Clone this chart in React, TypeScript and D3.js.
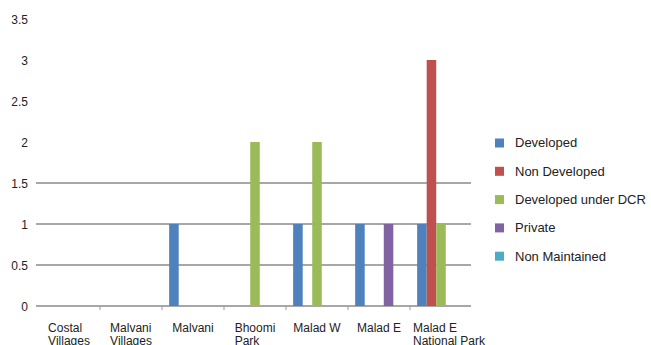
import React, { useMemo } from "react";
import * as d3 from "d3";

// Park categories, one label line per array entry
const categories = [
  "Costal Villages",
  "Malvani Villages",
  "Malvani",
  "Bhoomi Park",
  "Malad W",
  "Malad E",
  "Malad E National Park",
];
const categoryLines = [
  ["Costal", "Villages"],
  ["Malvani", "Villages"],
  ["Malvani"],
  ["Bhoomi", "Park"],
  ["Malad W"],
  ["Malad E"],
  ["Malad E", "National Park"],
];

const seriesNames = [
  "Developed",
  "Non Developed",
  "Developed under DCR",
  "Private",
  "Non Maintained",
];
const developed = [0, 0, 1, 0, 1, 1, 1];
const nonDeveloped = [0, 0, 0, 0, 0, 0, 3];
const developedDCR = [0, 0, 0, 2, 2, 0, 1];
const privateParks = [0, 0, 0, 0, 0, 1, 0];
const nonMaintained = [0, 0, 0, 0, 0, 0, 0];
const seriesValues = [developed, nonDeveloped, developedDCR, privateParks, nonMaintained];
const seriesColors = ["#4F81BD", "#C0504D", "#9BBB59", "#8064A2", "#4BACC6"];

const yTicks = [0, 0.5, 1, 1.5, 2, 2.5, 3, 3.5];
const gridValues = [0, 0.5, 1, 1.5];

const W = 651;
const H = 345;
const FONT = "'Liberation Sans', Arial, sans-serif";

export default function App() {
  const x0 = d3.scaleBand<string>().domain(categories).range([38, 472]).padding(0);
  const x1 = d3
    .scaleBand<string>()
    .domain(seriesNames)
    .range([0, x0.bandwidth()])
    .paddingInner(0)
    .paddingOuter(0.75);
  const y = d3.scaleLinear().domain([0, 3.5]).range([306, 19]);

  const labelWidths = useMemo(() => {
    const ctx = document.createElement("canvas").getContext("2d");
    if (!ctx) return categoryLines.map(() => 40);
    ctx.font = `12px ${FONT}`;
    return categoryLines.map((lines) =>
      Math.max(...lines.map((l) => ctx.measureText(l).width))
    );
  }, []);

  const boundaries = categories.slice(1).map((c) => x0(c) as number);

  return (
    <svg
      width={W}
      height={H}
      style={{ position: "fixed", left: 0, top: 0, background: "#fff" }}
      fontFamily={FONT}
    >
      {/* gridlines */}
      {gridValues.map((v) => (
        <line
          key={v}
          x1={36}
          x2={471}
          y1={y(v)}
          y2={y(v)}
          stroke="#8a8a8a"
          strokeWidth={1.6}
        />
      ))}
      {/* category ticks */}
      {boundaries.map((bx, i) => (
        <line key={i} x1={bx} x2={bx} y1={y(0)} y2={y(0) + 4} stroke="#9a9a9a" strokeWidth={1} />
      ))}
      {/* y axis labels */}
      {yTicks.map((t) => (
        <text
          key={t}
          x={28}
          y={y(t) + 1.5}
          textAnchor="end"
          dominantBaseline="middle"
          fontSize={12}
          fill="#222"
        >
          {t}
        </text>
      ))}
      {/* bars */}
      {categories.map((c, ci) => (
        <g key={c} transform={`translate(${x0(c)},0)`}>
          {seriesNames.map((s, si) => {
            const v = seriesValues[si][ci];
            if (!v) return null;
            return (
              <rect
                key={s}
                x={x1(s)}
                y={y(v)}
                width={x1.bandwidth()}
                height={y(0) - y(v)}
                fill={seriesColors[si]}
              />
            );
          })}
        </g>
      ))}
      {/* x axis labels: block centred in its band, lines left-aligned */}
      {categories.map((c, ci) => {
        const bandStart = x0(c) as number;
        const cx = bandStart + x0.bandwidth() / 2;
        const left = Math.max(bandStart + 3, cx - labelWidths[ci] / 2);
        return (
          <text key={c} fontSize={12} fill="#222">
            {categoryLines[ci].map((line, li) => (
              <tspan key={li} x={left} y={332 + li * 12.5}>
                {line}
              </tspan>
            ))}
          </text>
        );
      })}
      {/* legend */}
      {seriesNames.map((s, i) => {
        const cy = 143 + i * 28.3;
        return (
          <g key={s}>
            <rect x={495} y={cy - 4.5} width={9} height={9} fill={seriesColors[i]} />
            <text x={515} y={cy + 1} dominantBaseline="middle" fontSize={13} fill="#222">
              {s}
            </text>
          </g>
        );
      })}
    </svg>
  );
}
